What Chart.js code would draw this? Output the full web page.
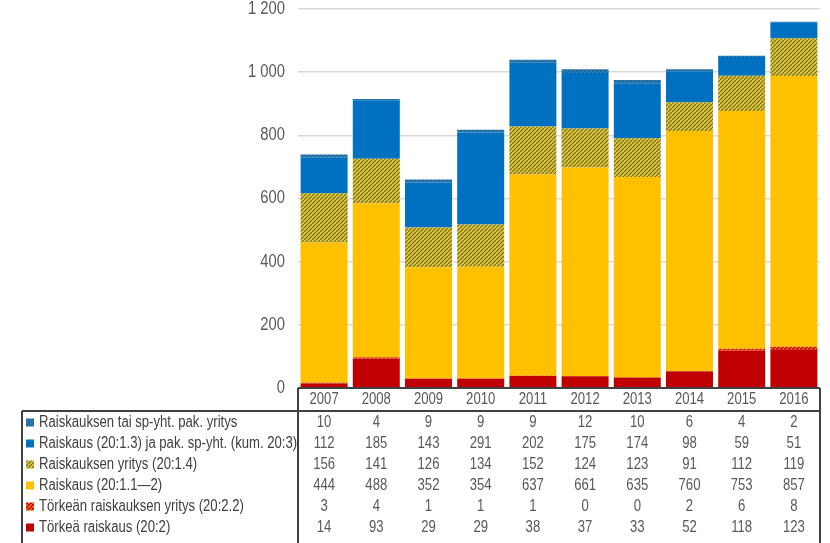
<!DOCTYPE html>
<html>
<head>
<meta charset="utf-8">
<script src="https://cdn.jsdelivr.net/npm/chart.js@4"></script>
<style>
  html, body { margin: 0; padding: 0; background: #fff; }
  #wrap { width: 830px; height: 543px; position: relative; }
</style>
</head>
<body>
<div id="wrap"><canvas id="raiskaukset"></canvas></div>
<script>
const vuodet = ["2007", "2008", "2009", "2010", "2011", "2012", "2013", "2014", "2015", "2016"];
const torkea = [14, 93, 29, 29, 38, 37, 33, 52, 118, 123];
const torkeanYritys = [3, 4, 1, 1, 1, 0, 0, 2, 6, 8];
const raiskaus = [444, 488, 352, 354, 637, 661, 635, 760, 753, 857];
const raiskauksenYritys = [156, 141, 126, 134, 152, 124, 123, 91, 112, 119];
const raiskaus13 = [112, 185, 143, 291, 202, 175, 174, 98, 59, 51];
const spYritys = [10, 4, 9, 9, 9, 12, 10, 6, 4, 2];
const yTicks = [0, 200, 400, 600, 800, 1000, 1200];

// vinoviivoitus kuvioille
function hatch(bg, fg) {
  const n = 4;
  const c = document.createElement("canvas");
  c.width = c.height = n;
  const x = c.getContext("2d");
  x.fillStyle = bg;
  x.fillRect(0, 0, n, n);
  x.strokeStyle = fg;
  x.lineWidth = 1.1;
  x.beginPath();
  x.moveTo(-1, n + 1); x.lineTo(n + 1, -1);
  x.moveTo(-n - 1, 1); x.lineTo(1, -n - 1);
  x.moveTo(n - 1, 2 * n + 1); x.lineTo(2 * n + 1, n - 1);
  x.stroke();
  return x.createPattern(c, "repeat");
}

const datasets = [
  { label: "Törkeä raiskaus (20:2)", data: torkea, backgroundColor: "#C00000" },
  { label: "Törkeän raiskauksen yritys (20:2.2)", data: torkeanYritys, backgroundColor: hatch("#C81000", "#FF9020") },
  { label: "Raiskaus (20:1.1\u20142)", data: raiskaus, backgroundColor: "#FFC000" },
  { label: "Raiskauksen yritys (20:1.4)", data: raiskauksenYritys, backgroundColor: hatch("#DCC428", "#6E6840") },
  { label: "Raiskaus (20:1.3) ja pak. sp-yht. (kum. 20:3)", data: raiskaus13, backgroundColor: "#0070C0" },
  { label: "Raiskauksen tai sp-yht. pak. yritys", data: spYritys, backgroundColor: hatch("#1A80C0", "#405870") },
];

const FONT = "'Liberation Sans', Arial, sans-serif";

// kapeampi teksti (Arial Narrow -tyyliin)
function kapea(ctx, txt, x, y, align) {
  ctx.save();
  ctx.translate(x, y);
  ctx.scale(0.82, 1);
  ctx.textAlign = align;
  ctx.fillText(txt, 0, 0);
  ctx.restore();
}

const taulukko = {
  id: "taulukko",
  afterDraw(chart) {
    const ctx = chart.ctx;
    const xs = chart.scales.x;
    const ys = chart.scales.y;
    const area = chart.chartArea;
    const left = 22, mid = area.left, right = area.right;
    const top = area.bottom, headBottom = 411, rowH = 21;
    ctx.save();
    ctx.textBaseline = "middle";
    // y-akselin luvut
    ctx.font = "18px " + FONT;
    ctx.fillStyle = "#595959";
    ys.ticks.forEach((t) => {
      const txt = t.value.toLocaleString("fi-FI").replace(/\s/g, " ");
      kapea(ctx, txt, 285, ys.getPixelForValue(t.value), "right");
    });
    ctx.font = "16px " + FONT;
    // vuodet
    vuodet.forEach((v, i) => kapea(ctx, v, xs.getPixelForValue(i), 400, "center"));
    // rivit ylhäältä alas
    const rivit = datasets.slice().reverse();
    rivit.forEach((ds, r) => {
      const y = headBottom + rowH * r + 11.5;
      ctx.fillStyle = ds.backgroundColor;
      ctx.fillRect(26, y - 4, 8, 8);
      ctx.fillStyle = "#404040";
      kapea(ctx, ds.label, 39, y, "left");
      ctx.fillStyle = "#595959";
      ds.data.forEach((v, i) => kapea(ctx, String(v), xs.getPixelForValue(i), y, "center"));
    });
    // reunat
    ctx.strokeStyle = "#404040";
    ctx.lineWidth = 2;
    ctx.beginPath();
    ctx.moveTo(left, headBottom); ctx.lineTo(right, headBottom);
    ctx.moveTo(left, headBottom); ctx.lineTo(left, 543);
    ctx.moveTo(mid, top); ctx.lineTo(mid, 543);
    ctx.moveTo(right, top); ctx.lineTo(right, 543);
    ctx.moveTo(mid, top); ctx.lineTo(right, top);
    ctx.stroke();
    ctx.restore();
  },
};

new Chart(document.getElementById("raiskaukset"), {
  type: "bar",
  data: { labels: vuodet, datasets },
  options: {
    responsive: true,
    maintainAspectRatio: false,
    animation: false,
    categoryPercentage: 0.9,
    barPercentage: 1,
    layout: { padding: { left: 0, right: 10, top: 9, bottom: 147 } },
    scales: {
      x: {
        stacked: true,
        grid: { display: false },
        border: { display: false },
        ticks: { display: false },
      },
      y: {
        stacked: true,
        min: 0,
        max: 1200,
        afterFit: (s) => { s.width = 298; s.paddingTop = 0; s.paddingBottom = 0; },
        afterBuildTicks: (s) => { s.ticks = yTicks.map((v) => ({ value: v })); },
        grid: { color: "#D9D9D9", lineWidth: 1.5, drawTicks: false },
        border: { display: false },
        ticks: { display: false },
      },
    },
    plugins: {
      legend: { display: false },
      tooltip: { enabled: false },
    },
  },
  plugins: [taulukko],
});
</script>
</body>
</html>
